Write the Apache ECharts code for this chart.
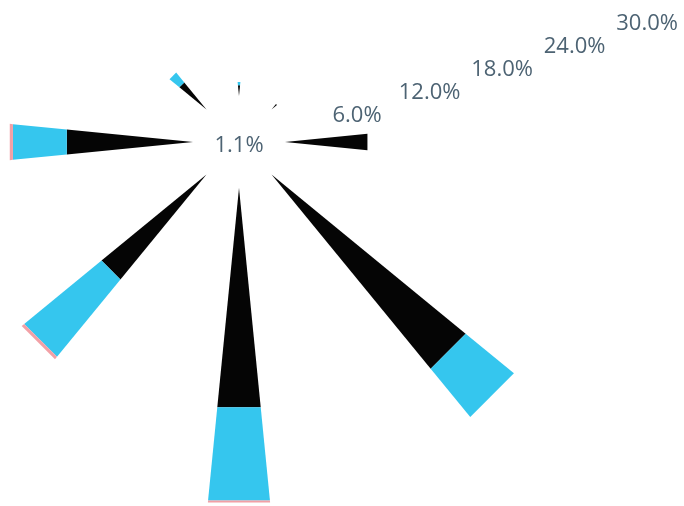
<!DOCTYPE html>
<html>
<head>
<meta charset="utf-8">
<script src="https://cdn.jsdelivr.net/npm/echarts@6/dist/echarts.min.js"></script>
<style>
  html, body { margin: 0; padding: 0; background: #ffffff; }
  #chart { width: 684px; height: 506px; }
</style>
</head>
<body>
<div id="chart"></div>
<script>
// Wind rose: share of observations (%) per direction, stacked by speed class
const directions = ['N', 'NE', 'E', 'SE', 'S', 'SW', 'W', 'NW'];
const lightWind = [0.85, 0.55, 6.5, 19.7, 17.3, 10.65, 9.95, 2.75];
const moderateWind = [0.25, 0, 0, 4.9, 7.35, 7.85, 4.25, 1.0];
const strongWind = [0, 0, 0, 0, 0.15, 0.25, 0.25, 0];
const radialTicks = [0, 6, 12, 18, 24, 30];
const calmShare = 1.1;

// Layout of the rose
const cx = 239, cy = 142;
const innerR = 46;
const pxPerPercent = 12.68;
const rMax = radialTicks[radialTicks.length - 1];
const outerR = innerR + rMax * pxPerPercent;
const labelAngle = 17.6;
const labelShift = [1.7, 11];
const halfSpread = 0.099;   // half-width of a petal per pixel of length

const textColor = '#4d6373';
const font = '"Open Sans", "Noto Sans", sans-serif';

const chart = echarts.init(document.getElementById('chart'), null, { renderer: 'canvas' });

const hiddenAngle = {
  axisLine: { show: false }, axisTick: { show: false },
  axisLabel: { show: false }, splitLine: { show: false }, splitArea: { show: false }
};

// stacked segments [directionIndex, from, to]
const classes = [lightWind, moderateWind, strongWind];
const segments = classes.map(() => []);
directions.forEach((d, i) => {
  let base = 0;
  classes.forEach((vals, c) => {
    if (vals[i] > 0) segments[c].push([i, base, base + vals[i]]);
    base += vals[i];
  });
});

// Each petal is a wedge whose point sits on the inner ring
function petal(color) {
  return function (params, api) {
    const idx = api.value(0);
    const lo = api.value(1), hi = api.value(2);
    const tip = api.coord([radialTicks[0], idx]);
    const far = api.coord([rMax, idx]);
    let ux = far[0] - tip[0], uy = far[1] - tip[1];
    const len = Math.hypot(ux, uy);
    ux /= len; uy /= len;
    const nx = -uy, ny = ux;
    const a = api.coord([lo, idx]);
    const b = api.coord([hi, idx]);
    const ha = halfSpread * Math.hypot(a[0] - tip[0], a[1] - tip[1]);
    const hb = halfSpread * Math.hypot(b[0] - tip[0], b[1] - tip[1]);
    return {
      type: 'polygon',
      shape: { points: [
        [a[0] + nx * ha, a[1] + ny * ha],
        [b[0] + nx * hb, b[1] + ny * hb],
        [b[0] - nx * hb, b[1] - ny * hb],
        [a[0] - nx * ha, a[1] - ny * ha]
      ] },
      style: { fill: color }
    };
  };
}

function speedSeries(name, data, color) {
  return {
    type: 'custom', name: name, data: data, coordinateSystem: 'polar', polarIndex: 0,
    encode: { angle: 0, radius: [1, 2] }, renderItem: petal(color), silent: true
  };
}

chart.setOption({
  animation: false,
  backgroundColor: '#ffffff',
  polar: [
    { center: [cx, cy], radius: [innerR, outerR] },
    { center: [cx + labelShift[0], cy + labelShift[1]], radius: [innerR, outerR] }
  ],
  angleAxis: [
    Object.assign({ polarIndex: 0, type: 'category', data: directions, startAngle: 112.5, clockwise: true }, hiddenAngle),
    Object.assign({ polarIndex: 1, type: 'value', min: 0, max: 360, startAngle: labelAngle }, hiddenAngle)
  ],
  radiusAxis: [
    {
      polarIndex: 0, type: 'value', min: radialTicks[0], max: rMax, interval: radialTicks[1] - radialTicks[0],
      axisLine: { show: false }, axisTick: { show: false }, axisLabel: { show: false }, splitLine: { show: false }
    },
    {
      polarIndex: 1, type: 'value', min: radialTicks[0], max: rMax, interval: radialTicks[1] - radialTicks[0],
      axisLine: { show: false }, axisTick: { show: false }, splitLine: { show: false },
      axisLabel: {
        show: true, showMinLabel: false, margin: 0, align: 'center', verticalAlign: 'middle',
        color: textColor, fontSize: 22, fontFamily: font,
        formatter: function (v) { return v.toFixed(1) + '%'; }
      }
    }
  ],
  graphic: [{
    type: 'text', x: cx, y: cy + 4, silent: true,
    style: {
      text: calmShare.toFixed(1) + '%', fill: textColor, font: '22px ' + font,
      align: 'center', verticalAlign: 'middle'
    }
  }],
  series: [
    speedSeries('light', segments[0], '#050505'),
    speedSeries('moderate', segments[1], '#35c6ee'),
    speedSeries('strong', segments[2], '#f2a0a6')
  ]
});
</script>
</body>
</html>
